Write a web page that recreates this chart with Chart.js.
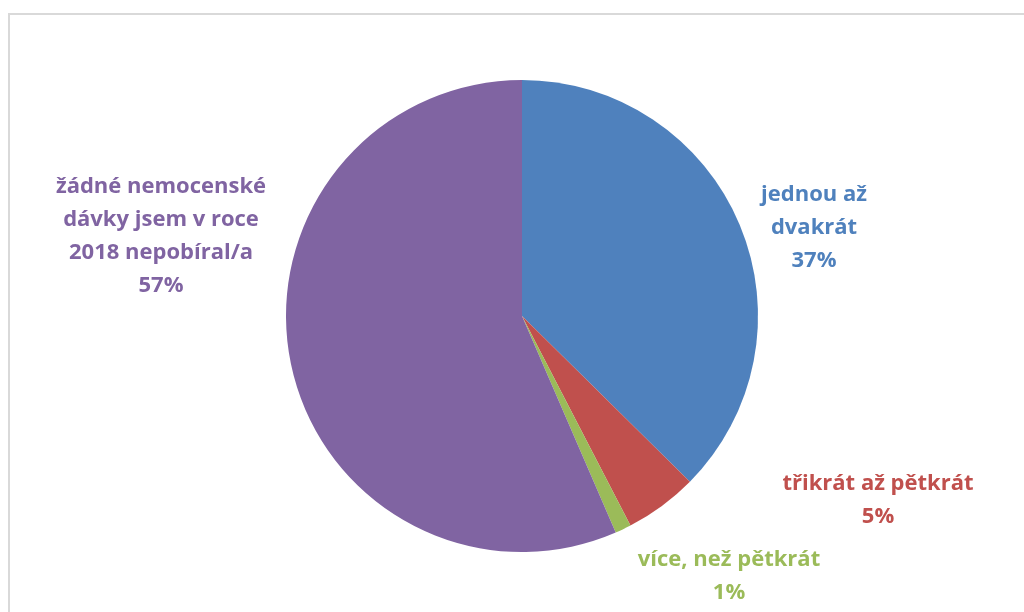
<!DOCTYPE html>
<html>
<head>
<meta charset="utf-8">
<script src="https://cdn.jsdelivr.net/npm/chart.js@4"></script>
<style>
  html, body { margin: 0; padding: 0; background: #fff; }
  .wrap { position: relative; width: 1024px; height: 612px; overflow: hidden; }
  .frame { position: absolute; left: 8px; top: 13px; width: 1100px; height: 700px;
           border-top: 2px solid #d9d9d9; border-left: 2px solid #d9d9d9; }
  canvas { position: absolute; left: 0; top: 0; }
</style>
</head>
<body>
<div class="wrap">
  <div class="frame"></div>
  <canvas class="chart" width="1024" height="612"></canvas>
</div>
<script>
const categories = [
  ['jednou až', 'dvakrát'],
  ['třikrát až pětkrát'],
  ['více, než pětkrát'],
  ['žádné nemocenské', 'dávky jsem v roce', '2018 nepobíral/a']
];
const shares = [37.4, 5.0, 1.1, 56.5];
const colors = ['#4f81bd', '#c0504d', '#9bbb59', '#8064a2'];

// first line of each label block, relative to the pie centre (px)
const labelOffsets = [[292, -121], [356, 168], [207, 244], [-361, -129]];

const pieLabels = {
  id: 'pieLabels',
  afterDatasetsDraw(chart) {
    const ctx = chart.ctx;
    const meta = chart.getDatasetMeta(0);
    const lineH = 33;
    ctx.save();
    ctx.font = 'bold 22px "Open Sans", Lato, sans-serif';
    ctx.textAlign = 'center';
    ctx.textBaseline = 'middle';
    meta.data.forEach((arc, i) => {
      const lines = categories[i].concat(Math.round(shares[i]) + '%');
      const x = arc.x + labelOffsets[i][0];
      const y = arc.y + labelOffsets[i][1];
      ctx.fillStyle = colors[i];
      lines.forEach((t, k) => ctx.fillText(t, x, y + k * lineH));
    });
    ctx.restore();
  }
};

document.addEventListener('DOMContentLoaded', () => {
  new Chart(document.querySelector('.chart'), {
    type: 'pie',
    data: {
      labels: categories.map(c => c.join(' ')),
      datasets: [{
        data: shares,
        backgroundColor: colors,
        borderWidth: 0
      }]
    },
    options: {
      responsive: false,
      animation: false,
      layout: { padding: { left: 286, right: 266, top: 80, bottom: 60 } },
      plugins: {
        legend: { display: false },
        tooltip: { enabled: false }
      }
    },
    plugins: [pieLabels]
  });
});
</script>
</body>
</html>
